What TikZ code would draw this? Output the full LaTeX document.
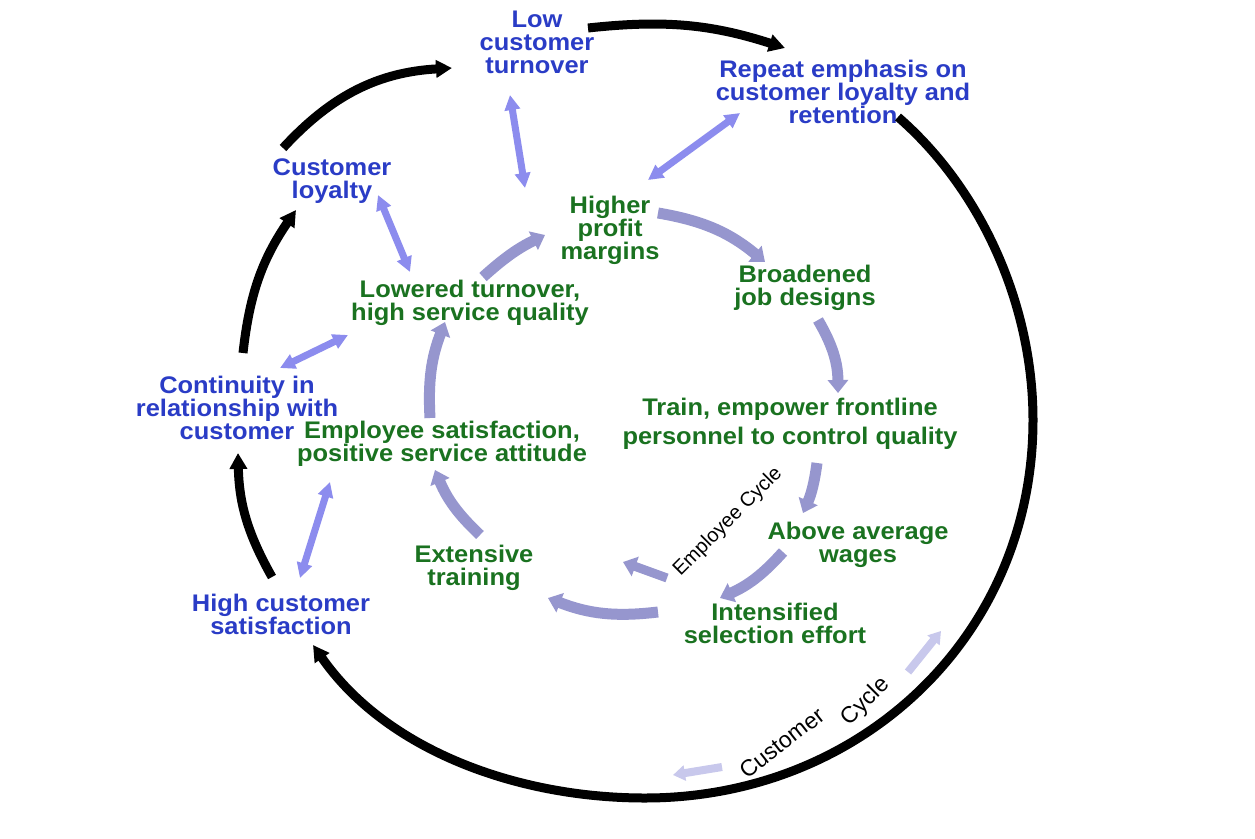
\documentclass[tikz,border=0pt]{standalone}
\usepackage{fontspec}
\setmainfont{Liberation Sans}
\newfontfamily\widesans[FakeStretch=1.06]{Liberation Sans}
\usetikzlibrary{arrows.meta,calc,backgrounds}
\definecolor{tblue}{RGB}{42,60,198}
\definecolor{tgreen}{RGB}{26,114,32}
\definecolor{dbl}{RGB}{140,140,238}
\definecolor{ecy}{RGB}{150,150,206}
\definecolor{lite}{RGB}{200,200,236}
\begin{document}
\begin{tikzpicture}[x=1pt,y=-1pt,
  cust/.style={text=tblue, font=\widesans\fontsize{24}{23}\selectfont\bfseries, align=center, inner sep=0pt},
  emp/.style={text=tgreen, font=\widesans\fontsize{24}{23}\selectfont\bfseries, align=center, inner sep=0pt},
  cyclabel/.style={text=black, font=\fontsize{20}{20}\selectfont, inner sep=0pt},
  blk/.style={draw=black, line width=9pt, -{Triangle[length=16pt,width=17pt]}},
  dbla/.style={draw=dbl, line width=7pt, {Triangle[length=15pt,width=15pt]}-{Triangle[length=15pt,width=15pt]}},
  ecya/.style={draw=ecy, line width=11pt, -{Triangle[length=13pt,width=20pt]}},
  litea/.style={draw=lite, line width=8pt, -{Triangle[length=12pt,width=15pt]}}]
\fill[white] (0,0) rectangle (1255,838);
\useasboundingbox (0,0) rectangle (1255,838);

% customer cycle nodes
\node[cust] (low) at (537,42) {Low\\customer\\turnover};
\node[cust] (rep) at (843,92) {Repeat emphasis on\\customer loyalty and\\retention};
\node[cust] (loyal) at (332,181) {Customer\\loyalty};
\node[cust] (cont) at (237,408) {Continuity in\\relationship with\\customer};
\node[cust] (hcs) at (281,614) {High customer\\satisfaction};

% employee cycle nodes
\node[emp] (prof) at (610,230) {Higher\\profit\\margins};
\node[emp] (broad) at (805,288) {Broadened\\job designs};
\node[emp] (lowt) at (470,303) {Lowered turnover,\\high service quality};
\node[emp, font=\widesans\fontsize{24}{29}\selectfont\bfseries] (train) at (790,424) {Train, empower frontline\\personnel to control quality};
\node[emp] (emps) at (442,444) {Employee satisfaction,\\positive service attitude};
\node[emp] (wages) at (858,545) {Above average\\wages};
\node[emp] (ext) at (474,568) {Extensive\\training};
\node[emp] (intens) at (775,623) {Intensified\\selection effort};

% cycle labels
\node[cyclabel, rotate=45] (ecl) at (728,522) {Employee Cycle};
\node[cyclabel, font=\fontsize{23}{23}\selectfont, rotate=38] (cc1) at (782,743) {Customer};
\node[cyclabel, font=\fontsize{23}{23}\selectfont, rotate=45] (cc2) at (866,702) {Cycle};

% black customer-cycle arrows
\draw[blk] ($(loyal)+(-49,-33)$) to[bend left=22] ($(low)+(-85,26)$);
\draw[blk] ($(low)+(51,-14)$) to[bend left=12] ($(rep)+(-58,-44)$);
\draw[blk] ($(rep)+(55,25)$) .. controls +(85,74) and +(0,-113) .. (1033,420)
  .. controls +(0,216) and +(216,0) .. (645,798)
  .. controls +(-128,0) and +(73,105) .. ($(hcs)+(32,31)$);
\draw[blk] ($(hcs)+(-9,-37)$) to[bend left=14] ($(cont)+(1,45)$);
\draw[blk] ($(cont)+(6,-55)$) to[bend left=14] ($(loyal)+(-36,29)$);

% double arrows between cycles
\draw[dbla] ($(low)+(-27,53)$) -- ($(prof)+(-85,-42)$);
\draw[dbla] ($(rep)+(-103,21)$) -- ($(prof)+(38,-50)$);
\draw[dbla] ($(loyal)+(46,14)$) -- ($(lowt)+(-60,-31)$);
\draw[dbla] ($(cont)+(43,-40)$) -- ($(lowt)+(-122,32)$);
\draw[dbla] ($(hcs)+(19,-36)$) -- ($(emps)+(-112,38)$);

% employee cycle arrows
\draw[ecya] ($(lowt)+(13,-26)$) to[bend left=8] ($(prof)+(-65,5)$);
\draw[ecya] ($(prof)+(48,-17)$) to[bend left=15] ($(broad)+(-40,-26)$);
\draw[ecya] ($(broad)+(13,32)$) to[bend left=15] ($(train)+(48,-31)$);
\draw[ecya] ($(train)+(27,39)$) to[bend left=8] ($(wages)+(-55,-32)$);
\draw[ecya] ($(wages)+(-75,7)$) to[bend left=12] ($(intens)+(-55,-25)$);
\draw[ecya] ($(intens)+(-117,-11)$) to[bend left=14] ($(ext)+(74,30)$);
\draw[ecya] ($(ext)+(6,-33)$) to[bend left=12] ($(emps)+(-7,26)$);
\draw[ecya] ($(emps)+(-12,-26)$) to[bend left=12] ($(lowt)+(-25,19)$);

% arrows of the cycle labels
\draw[ecya, line width=9pt] ($(ecl)+(-61,56)$) -- ($(ecl)+(-105,40)$);
\begin{pgfonlayer}{background}
\draw[ecya, line width=9pt] ($(ecl)+(56,-60)$) -- ($(train)+(16,-12)$);
\end{pgfonlayer}
\draw[litea] ($(cc2)+(42,-30)$) -- ($(cc2)+(75,-71)$);
\draw[litea] ($(cc1)+(-60,24)$) -- ($(cc1)+(-109,32)$);
\end{tikzpicture}
\end{document}
